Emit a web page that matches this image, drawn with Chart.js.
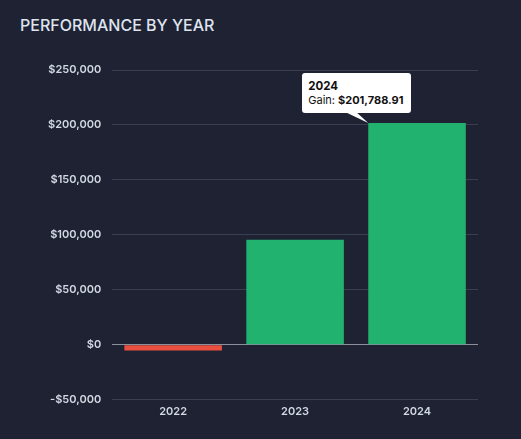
<!DOCTYPE html>
<html>
<head>
<meta charset="utf-8">
<script src="https://cdn.jsdelivr.net/npm/chart.js@4.4.1/dist/chart.umd.min.js"></script>
<style>
  html, body { margin: 0; padding: 0; background: #1e2233; }
  #wrap { position: relative; width: 521px; height: 439px; background: #1e2233; font-family: Inter, sans-serif; }
  #title { position: absolute; left: 20px; top: 15px; color: #dfe4ee; font-size: 16px; font-weight: 500; letter-spacing: 0px; }
  #box { position: absolute; left: 0; top: 0; width: 521px; height: 439px; }
  #tip { position: absolute; background: #fff; color: #111; border-radius: 3px; padding: 6px 7px 6px 6px;
         font-size: 11px; line-height: 14px; white-space: nowrap; pointer-events: none; opacity: 0; }
  #tip .t { font-weight: 700; font-size: 11.5px; }
  #tip .v { font-weight: 700; }
  #tip .caret { position: absolute; left: 45px; top: 100%; width: 21px; height: 10px; background: #fff;
                clip-path: polygon(0 0, 10px 0, 100% 100%); }
</style>
</head>
<body>
<div id="wrap">
  <div id="title">PERFORMANCE BY YEAR</div>
  <div id="box"><canvas id="perfChart"></canvas></div>
  <div id="tip"></div>
</div>
<script>
const years = ['2022', '2023', '2024'];
const gains = [-5200, 95500, 201788.91];
const yTicks = [-50000, 0, 50000, 100000, 150000, 200000, 250000];
const activeIndex = 2;

const green = '#22b26f';
const red = '#e9503f';

const money = v => (v < 0 ? '-' : '') + '$' + Math.abs(v).toLocaleString('en-US');
const moneyCents = v => '$' + v.toLocaleString('en-US', { minimumFractionDigits: 2, maximumFractionDigits: 2 });

// caret sits on the top-left corner of the hovered bar
Chart.Tooltip.positioners.barCorner = function (items) {
    if (!items.length) return false;
    const el = items[0].element;
    return { x: el.x - el.width / 2, y: el.y };
};

function externalTip(context) {
    const tooltip = context.tooltip;
    const tipEl = document.getElementById('tip');
    if (tooltip.opacity === 0 || !tooltip.dataPoints || !tooltip.dataPoints.length) {
        tipEl.style.opacity = 0;
        return;
    }
    const dp = tooltip.dataPoints[0];
    tipEl.innerHTML = '<div class="t">' + dp.label + '</div>' +
        '<div>Gain: <span class="v">' + moneyCents(dp.raw) + '</span></div>' +
        '<div class="caret"></div>';
    const canvas = context.chart.canvas;
    tipEl.style.left = (canvas.offsetLeft + tooltip.caretX - 66) + 'px';
    tipEl.style.top = (canvas.offsetTop + tooltip.caretY - 10 - tipEl.offsetHeight) + 'px';
    tipEl.style.opacity = 1;
}

const ctx = document.getElementById('perfChart').getContext('2d');
const perfChart = new Chart(ctx, {
    type: 'bar',
    data: {
        labels: years,
        datasets: [{
            label: 'Gain',
            data: gains,
            backgroundColor: gains.map(v => v < 0 ? red : green),
            hoverBackgroundColor: gains.map(v => v < 0 ? red : green),
            borderWidth: 0,
            barPercentage: 0.8,
            categoryPercentage: 1.0,
        }],
    },
    options: {
        responsive: true,
        maintainAspectRatio: false,
        animation: false,
        layout: { padding: { left: 37, right: 43, top: 70, bottom: 16 } },
        plugins: {
            legend: { display: false },
            title: { display: false },
            tooltip: {
                enabled: false,
                position: 'barCorner',
                external: externalTip,
            },
        },
        scales: {
            x: {
                grid: { display: false, drawTicks: false },
                border: { display: false },
                ticks: {
                    color: '#d3d9e4',
                    padding: 5,
                    font: { family: 'Inter', size: 11, weight: '600' },
                },
            },
            y: {
                min: -50000,
                max: 250000,
                afterBuildTicks: axis => { axis.ticks = yTicks.map(v => ({ value: v })); },
                border: { display: false },
                grid: {
                    drawTicks: false,
                    color: c => c.tick && c.tick.value === 0 ? '#8b909c' : '#3a3f50',
                    lineWidth: 1,
                },
                ticks: {
                    color: '#d3d9e4',
                    padding: 11,
                    font: { family: 'Inter', size: 11, weight: '600' },
                    callback: v => money(v),
                },
            },
        },
    },
});

perfChart.setActiveElements([{ datasetIndex: 0, index: activeIndex }]);
perfChart.tooltip.setActiveElements([{ datasetIndex: 0, index: activeIndex }], { x: 0, y: 0 });
perfChart.update();
</script>
</body>
</html>
